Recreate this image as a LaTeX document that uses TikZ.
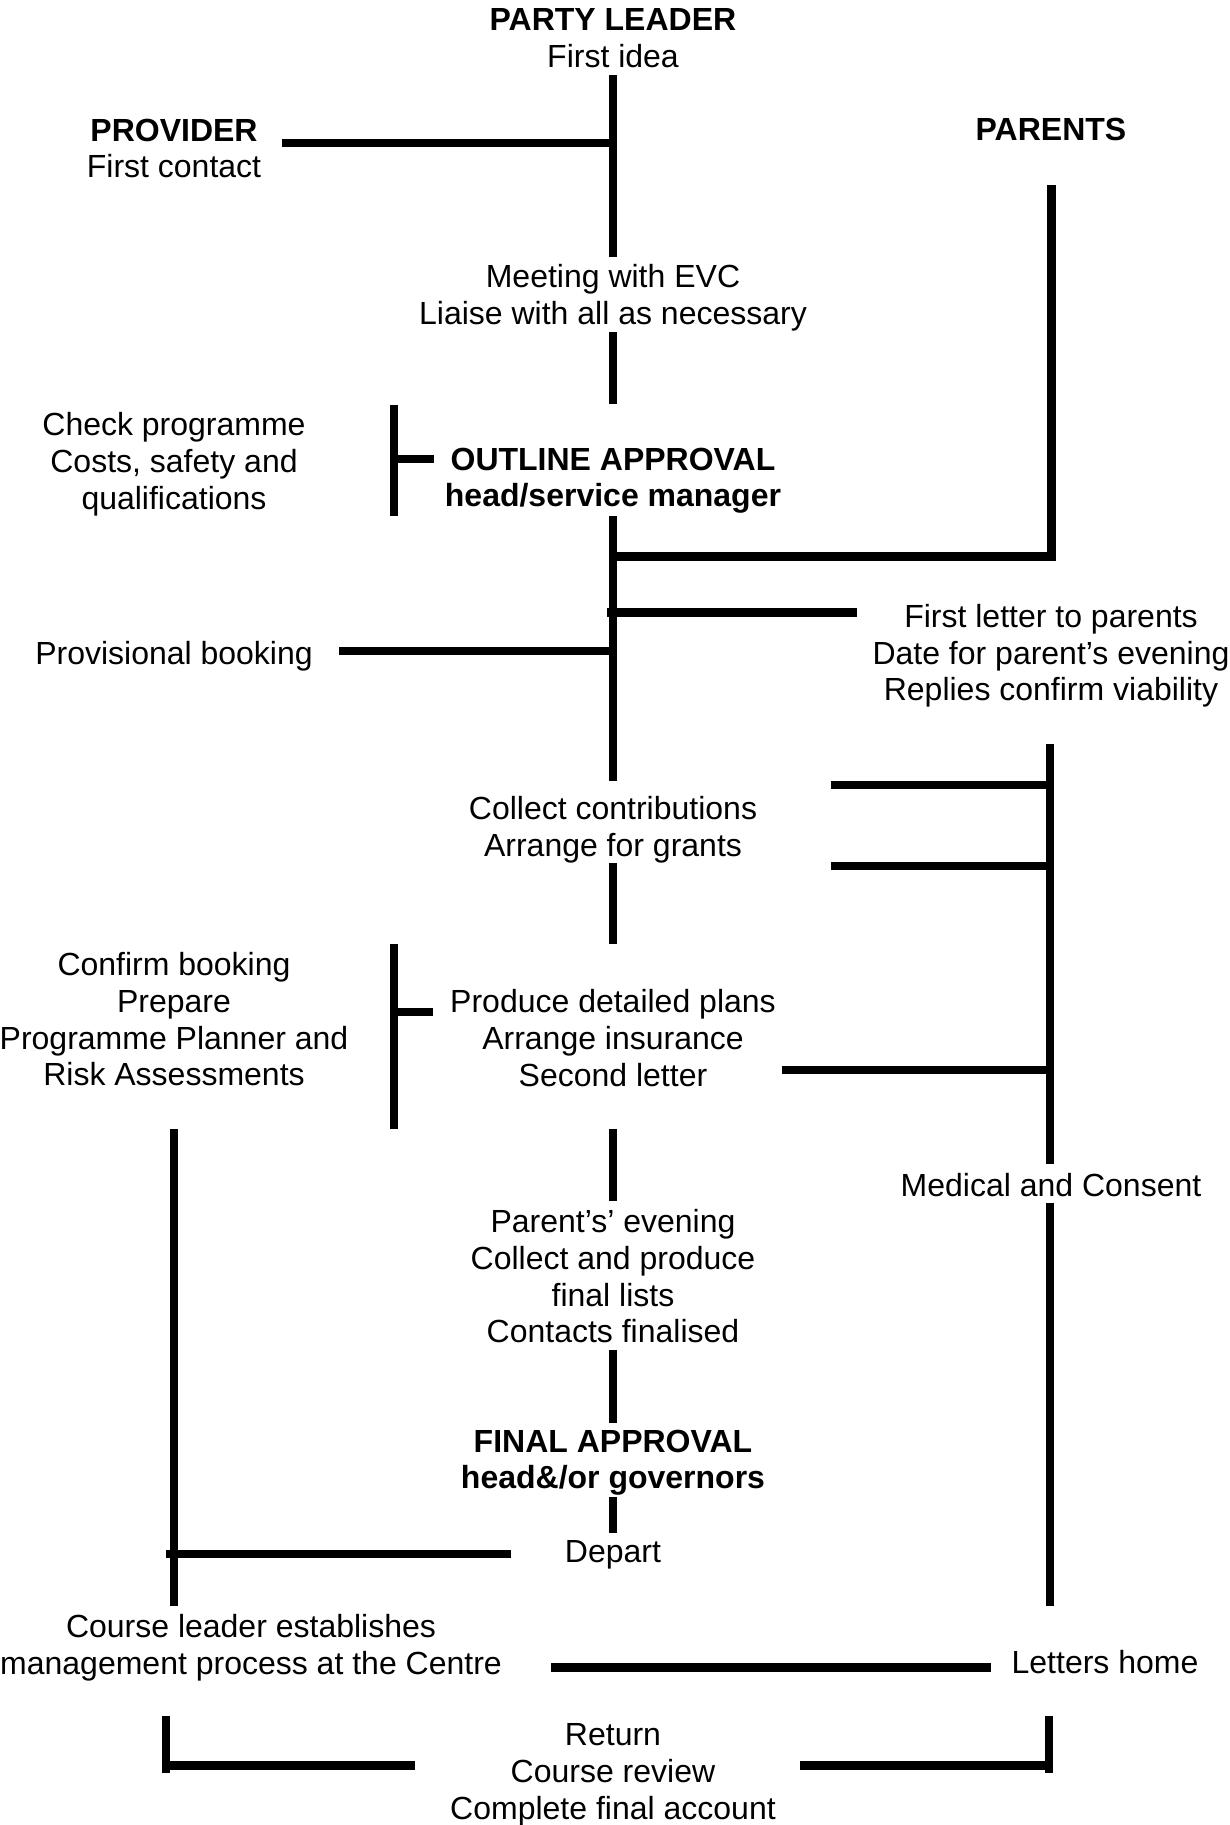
\documentclass[tikz,border=0pt]{standalone}
\usepackage{fontspec}
\setmainfont{Liberation Sans}
\begin{document}
\begin{tikzpicture}[x=1pt,y=-1pt,
  lbl/.style={anchor=north,inner sep=0pt,align=center,font=\fontsize{32}{36.8}\selectfont},
  bar/.style={line width=8.3pt,line cap=butt,line join=miter}]
\useasboundingbox (0,0) rectangle (1229,1825);
\fill[white] (0,0) rectangle (1229,1825);

% text nodes
\node[lbl] (leader) at (613,8.2) {\textbf{PARTY LEADER}\\First idea};
\node[lbl] (provider) at (174,118.5) {\textbf{PROVIDER}\\First contact};
\node[lbl] (parents) at (1051,117.5) {\textbf{PARENTS}};
\node[lbl] (meeting) at (613,264) {Meeting with EVC\\Liaise with all as necessary};
\node[lbl] (check) at (174,412.5) {Check programme\\Costs, safety and\\qualifications};
\node[lbl] (outline) at (613,447.5) {\textbf{OUTLINE APPROVAL}\\\textbf{head/service manager}};
\node[lbl] (letter1) at (1051,604) {First letter to parents\\Date for parent’s evening\\Replies confirm viability};
\node[lbl] (provbook) at (174,641) {Provisional booking};
\node[lbl] (collect) at (613,796.5) {Collect contributions\\Arrange for grants};
\node[lbl] (confirm) at (174,952) {Confirm booking\\Prepare\\Programme Planner and\\Risk Assessments};
\node[lbl] (produce) at (613,989) {Produce detailed plans\\Arrange insurance\\Second letter};
\node[lbl] (medical) at (1051,1173) {Medical and Consent};
\node[lbl] (evening) at (613,1209) {Parent’s’ evening\\Collect and produce\\final lists\\Contacts finalised};
\node[lbl] (final) at (613,1429.5) {\textbf{FINAL APPROVAL}\\\textbf{head\&/or governors}};
\node[lbl] (depart) at (613,1540.5) {Depart};
\node[lbl] (course) at (251,1614) {Course leader establishes\\management process at the Centre};
\node[lbl] (home) at (1105,1650.5) {Letters home};
\node[lbl] (return) at (613,1723.5) {Return\\Course review\\Complete final account};

% line end points
\coordinate (m1a) at (613,75);    \coordinate (m1b) at (613,257);
\coordinate (m2a) at (613,332);   \coordinate (m2b) at (613,404);
\coordinate (m3a) at (613,515.5); \coordinate (m3b) at (613,780.5);
\coordinate (m4a) at (613,863);   \coordinate (m4b) at (613,944);
\coordinate (m5a) at (613,1129);  \coordinate (m5b) at (613,1200.6);
\coordinate (m6a) at (613,1350);  \coordinate (m6b) at (613,1423);
\coordinate (m7a) at (613,1497);  \coordinate (m7b) at (613,1533);

\coordinate (provA) at (282,143);   \coordinate (provB) at (609,143);
\coordinate (parTop) at (1051.5,185); \coordinate (parCorner) at (1051.5,556.5); \coordinate (parJoin) at (613,556.5);
\coordinate (b1a) at (394,405);  \coordinate (b1b) at (394,515.5);
\coordinate (b1t) at (394,459);  \coordinate (b1e) at (434,459);
\coordinate (l1a) at (607,612.5); \coordinate (l1b) at (857,612.5);
\coordinate (pbA) at (339,651);  \coordinate (pbB) at (609,651);
\coordinate (pv1a) at (1050,744); \coordinate (pv1b) at (1050,1164);
\coordinate (h1a) at (831,785);  \coordinate (h1b) at (1050,785);
\coordinate (h2a) at (831,866);  \coordinate (h2b) at (1050,866);
\coordinate (b2a) at (394,944);  \coordinate (b2b) at (394,1129);
\coordinate (b2t) at (394,1012); \coordinate (b2e) at (433,1012);
\coordinate (slA) at (781.5,1070); \coordinate (slB) at (1050,1070);
\coordinate (lvA) at (174,1129); \coordinate (lvB) at (174,1606);
\coordinate (pv2a) at (1050,1202.6); \coordinate (pv2b) at (1050,1606);
\coordinate (dpA) at (166,1554); \coordinate (dpB) at (511,1554);
\coordinate (lhA) at (551,1667.5); \coordinate (lhB) at (991,1667.5);
\coordinate (blTop) at (166,1715.6); \coordinate (blBot) at (166,1772.7);
\coordinate (blH) at (166,1765.5); \coordinate (blE) at (415,1765.5);
\coordinate (brTop) at (1049,1715.6); \coordinate (brBot) at (1049,1772.7);
\coordinate (brH) at (1049,1765.5); \coordinate (brE) at (800,1765.5);

% connectors
\draw[bar] (m1a) -- (m1b);
\draw[bar] (m2a) -- (m2b);
\draw[bar] (m3a) -- (m3b);
\draw[bar] (m4a) -- (m4b);
\draw[bar] (m5a) -- (m5b);
\draw[bar] (m6a) -- (m6b);
\draw[bar] (m7a) -- (m7b);
\draw[bar] (provA) -- (provB);
\draw[bar] (parJoin) -- (parCorner) -- (parTop);
\draw[bar] (b1a) -- (b1b);
\draw[bar] (b1t) -- (b1e);
\draw[bar] (l1a) -- (l1b);
\draw[bar] (pbA) -- (pbB);
\draw[bar] (pv1a) -- (pv1b);
\draw[bar] (h1a) -- (h1b);
\draw[bar] (h2a) -- (h2b);
\draw[bar] (b2a) -- (b2b);
\draw[bar] (b2t) -- (b2e);
\draw[bar] (slA) -- (slB);
\draw[bar] (lvA) -- (lvB);
\draw[bar] (pv2a) -- (pv2b);
\draw[bar] (dpA) -- (dpB);
\draw[bar] (lhA) -- (lhB);
\draw[bar] (blTop) -- (blBot);
\draw[bar] (blH) -- (blE);
\draw[bar] (brTop) -- (brBot);
\draw[bar] (brH) -- (brE);
\end{tikzpicture}
\end{document}
